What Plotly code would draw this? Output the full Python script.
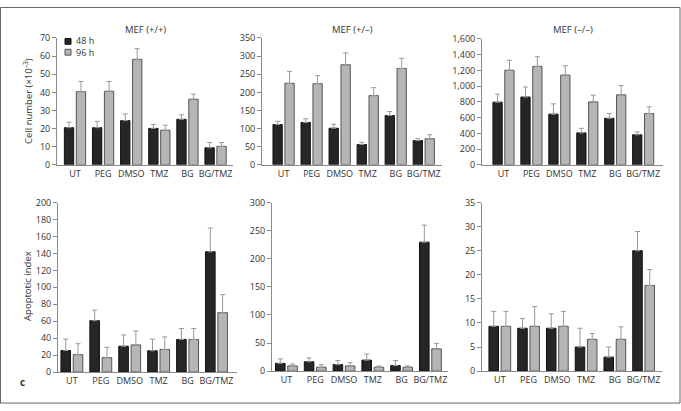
import plotly.graph_objects as go

W, H = 681, 411

categories = ["UT", "PEG", "DMSO", "TMZ", "BG", "BG/TMZ"]
series_names = ["48 h", "96 h"]

# Cell number (x10^-3)
mef_pp_48 = [20.5, 20.5, 24.4, 20.1, 25.1, 9.4]
mef_pp_48_err = [3.0, 3.5, 3.7, 2.2, 2.5, 2.9]
mef_pp_96 = [40.4, 40.6, 58.2, 19.1, 36.2, 10.2]
mef_pp_96_err = [5.6, 5.4, 5.9, 2.8, 2.8, 2.1]

mef_pm_48 = [111, 117, 101, 56, 136, 67]
mef_pm_48_err = [9, 10, 11, 6, 11, 5]
mef_pm_96 = [225, 224, 276, 191, 266, 72]
mef_pm_96_err = [33, 22, 33, 22, 28, 11]

mef_mm_48 = [796, 862, 644, 406, 591, 382]
mef_mm_48_err = [102, 127, 131, 58, 61, 36]
mef_mm_96 = [1202, 1251, 1140, 800, 890, 652]
mef_mm_96_err = [127, 123, 119, 86, 119, 86]

# Apoptotic index
apo_pp_48 = [25.5, 60.6, 30.5, 25.1, 38.5, 142]
apo_pp_48_err = [13.4, 12.5, 13.3, 13.8, 12.9, 28]
apo_pp_96 = [20.6, 17.1, 32.0, 26.7, 38.5, 70.1]
apo_pp_96_err = [12.9, 12.2, 16.4, 14.8, 12.9, 21.3]

apo_pm_48 = [13.8, 16.6, 11.5, 19.5, 9.8, 229.5]
apo_pm_48_err = [8.0, 6.9, 7.4, 10.9, 9.1, 30.4]
apo_pm_96 = [9.2, 6.9, 9.2, 6.9, 6.9, 39.6]
apo_pm_96_err = [3.4, 4.6, 5.7, 2.3, 2.3, 9.7]

apo_mm_48 = [9.3, 8.9, 8.9, 5.0, 2.9, 25.0]
apo_mm_48_err = [3.1, 2.0, 3.0, 3.9, 2.1, 4.0]
apo_mm_96 = [9.3, 9.3, 9.3, 6.6, 6.6, 17.8]
apo_mm_96_err = [3.1, 4.1, 3.1, 1.2, 2.6, 3.3]

panel_titles = ["MEF (+/+)", "MEF (+/\u2013)", "MEF (\u2013/\u2013)"]

panels = [
    # (s48, e48, s96, e96, ymax, dtick, xrange, px domain x, px domain y)
    (mef_pp_48, mef_pp_48_err, mef_pp_96, mef_pp_96_err, 70, 10, [-0.64, 5.62], (57, 233), (32, 163)),
    (mef_pm_48, mef_pm_48_err, mef_pm_96, mef_pm_96_err, 350, 50, [-0.77, 5.65], (262, 442), (32, 163)),
    (mef_mm_48, mef_mm_48_err, mef_mm_96, mef_mm_96_err, 1600, 200, [-0.77, 5.71], (482, 663), (33, 163)),
    (apo_pp_48, apo_pp_48_err, apo_pp_96, apo_pp_96_err, 200, 20, [-0.48, 5.71], (58, 237), (202, 377)),
    (apo_pm_48, apo_pm_48_err, apo_pm_96, apo_pm_96_err, 300, 50, [-0.5, 5.61], (272, 448), (202, 376)),
    (apo_mm_48, apo_mm_48_err, apo_mm_96, apo_mm_96_err, 35, 5, [-0.62, 5.64], (482, 662), (202, 376)),
]

DARK = "#262626"
LIGHT = "#b5b5b5"
AXIS = "#8a8a8a"
TEXT = "#333333"
FONT = "Open Sans"

fig = go.Figure()
layout = dict(
    width=W, height=H,
    margin=dict(l=0, r=0, t=0, b=0),
    paper_bgcolor="white", plot_bgcolor="white",
    barmode="group", bargap=0.15, bargroupgap=0.22,
    showlegend=False,
    font=dict(family=FONT, size=9, color=TEXT),
)

annotations = []
shapes = []

def px_x(v):
    return v / W

def px_y(v):
    return 1 - v / H

for i, (s48, e48, s96, e96, ymax, dtick, xr, dx, dy) in enumerate(panels):
    n = i + 1
    xa = "x" if n == 1 else f"x{n}"
    ya = "y" if n == 1 else f"y{n}"
    for vals, errs, color, line_col, name in [
        (s48, e48, DARK, "#111111", series_names[0]),
        (s96, e96, LIGHT, "#555555", series_names[1]),
    ]:
        fig.add_trace(go.Bar(
            x=categories, y=vals, name=name, xaxis=xa, yaxis=ya,
            marker=dict(color=color, line=dict(color=line_col, width=1)),
            error_y=dict(type="data", symmetric=False, array=errs,
                         arrayminus=[0] * len(errs), color="#999999",
                         thickness=1, width=2.5),
            showlegend=False,
        ))
    layout[f"xaxis{'' if n == 1 else n}"] = dict(
        domain=[px_x(dx[0]), px_x(dx[1])], anchor=ya,
        type="category", range=xr, showline=True, linecolor=AXIS, linewidth=1,
        ticks="", showgrid=False, zeroline=False,
        tickfont=dict(family=FONT, size=9, color=TEXT),
        fixedrange=True,
    )
    layout[f"yaxis{'' if n == 1 else n}"] = dict(
        domain=[px_y(dy[1]), px_y(dy[0])], anchor=xa,
        range=[0, ymax], dtick=dtick, tick0=0, showline=True, linecolor=AXIS,
        linewidth=1, ticks="outside", ticklen=4, tickcolor=AXIS,
        showgrid=False, zeroline=False, separatethousands=True,
        tickfont=dict(family=FONT, size=9, color=TEXT),
        fixedrange=True,
    )
    if i < 3:
        annotations.append(dict(
            text=panel_titles[i], x=px_x((dx[0] + dx[1]) / 2), y=px_y(23),
            xref="paper", yref="paper", showarrow=False,
            xanchor="center", yanchor="middle",
            font=dict(family=FONT, size=9.5, color=TEXT),
        ))

# Y-axis titles
annotations.append(dict(
    text="Cell number (\u00d710<sup>\u20133</sup>)", x=px_x(28), y=px_y(97),
    xref="paper", yref="paper", showarrow=False, textangle=-90,
    xanchor="center", yanchor="middle",
    font=dict(family=FONT, size=9.5, color=TEXT),
))
annotations.append(dict(
    text="Apoptotic index", x=px_x(28), y=px_y(288),
    xref="paper", yref="paper", showarrow=False, textangle=-90,
    xanchor="center", yanchor="middle",
    font=dict(family=FONT, size=9.5, color=TEXT),
))
# Panel letter
annotations.append(dict(
    text="<b>c</b>", x=px_x(22), y=px_y(387),
    xref="paper", yref="paper", showarrow=False,
    xanchor="center", yanchor="middle",
    font=dict(family=FONT, size=10, color=TEXT),
))

# Legend (drawn in the top-left panel)
for j, (fill, edge, yc, yt) in enumerate([(DARK, "#111111", 35.5, 35.0), (LIGHT, "#555555", 46.7, 47.4)]):
    shapes.append(dict(
        type="rect", xref="paper", yref="paper",
        x0=px_x(65), x1=px_x(71), y0=px_y(yc + 3), y1=px_y(yc - 3),
        fillcolor=fill, line=dict(color=edge, width=1),
    ))
    annotations.append(dict(
        text=series_names[j], x=px_x(74), y=px_y(yt),
        xref="paper", yref="paper", showarrow=False,
        xanchor="left", yanchor="middle",
        font=dict(family=FONT, size=9, color=TEXT),
    ))

# Outer frame
shapes.append(dict(
    type="rect", xref="paper", yref="paper",
    x0=px_x(0.5), x1=px_x(680), y0=px_y(409), y1=px_y(0.5),
    line=dict(color="#666666", width=1), fillcolor="rgba(0,0,0,0)",
))

layout["annotations"] = annotations
layout["shapes"] = shapes
fig.update_layout(**layout)

fig.write_html(
    "out.html",
    config={"displayModeBar": False},
    post_script="document.body.style.margin='0';document.body.style.overflow='hidden';",
)
